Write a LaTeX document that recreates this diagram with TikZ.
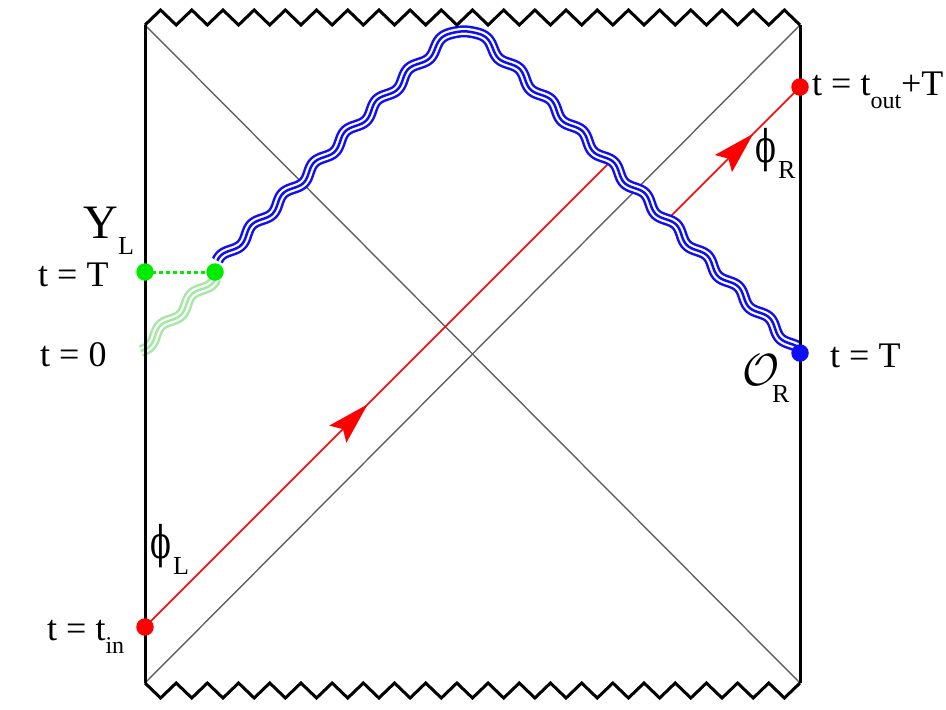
\RequirePackage{fix-cm}
\documentclass[tikz,border=0pt]{standalone}
\usepackage{fontspec}
\setmainfont{Liberation Serif}
\newfontfamily\phifont{DejaVu Serif}
\usetikzlibrary{arrows.meta,decorations.markings}
\definecolor{wblue}{RGB}{15,15,245}
\definecolor{gr}{RGB}{0,235,0}
\definecolor{lgr}{RGB}{165,232,165}
\newcommand{\uphi}{\scalebox{0.68}[1]{\phifont ϕ}}
\begin{document}
\begin{tikzpicture}[x=1pt,y=-1pt,
  declare function={
    wbU(\t)=(\t-464)/100;
    wbS(\t)=sqrt(wbU(\t)*wbU(\t)+0.0144);
    wbD(\t)=wbU(\t)/wbS(\t);
    wbN(\t)=sqrt(1+wbD(\t)*wbD(\t));
    wbW(\t)=3.5*sin(wbS(\t)*3.214*360);
    wbX(\t)=\t-wbW(\t)*wbD(\t)/wbN(\t);
    wbY(\t)=17+100*wbS(\t)+wbW(\t)/wbN(\t);
  },
  frame/.style={line width=3pt, black, line join=miter},
  diag/.style={line width=1.4pt, black!62},
  ray/.style={line width=1.5pt, red},
  dot/.style={circle, inner sep=0pt, minimum size=17.5pt},
  lab/.style={anchor=base west, inner sep=0pt, font=\fontsize{36}{40}\selectfont},
  sub/.style={anchor=base west, inner sep=0pt, font=\fontsize{26}{28}\selectfont},
  big/.style={anchor=base west, inner sep=0pt, font=\fontsize{45}{48}\selectfont},
  rayarrow/.style={postaction={decorate}, decoration={markings,
     mark=at position #1 with {\arrow{Stealth[length=42pt,width=24pt,inset=7pt]}}}}
]
\useasboundingbox (0,0) rectangle (946,710);

% key points
\coordinate (tl) at (145,25);
\coordinate (tr) at (800,25);
\coordinate (bl) at (145,683);
\coordinate (br) at (800,683);
\coordinate (pin) at (145,627);
\coordinate (pout) at (800,87);
\coordinate (pO) at (800,353);
\coordinate (pgL) at (145,272);
\coordinate (pgR) at (215,272);
\coordinate (r1end) at (609,163);
\coordinate (r2start) at (670,217);

% diagonals (horizons)
\draw[diag] (tl) -- (br);
\draw[diag] (tr) -- (bl);

% red rays
\draw[ray, rayarrow=0.48] (pin) -- (r1end);
\draw[ray, rayarrow=0.64] (r2start) -- (pout);

% faint green shock wave
\foreach \w/\c in {12pt/lgr, 7pt/white, 2.5pt/lgr} {
  \draw[line width=\w, color=\c, line join=round]
    plot[variable=\s, domain=0:104, samples=105]
    ({214-\s*0.7071+3.5*sin(\s*8.18+40)*0.7071},{277+\s*0.7071+3.5*sin(\s*8.18+40)*0.7071});
}

% blue shock wave
\foreach \w/\c in {12pt/wblue, 7pt/white, 2.5pt/wblue} {
  \draw[line width=\w, color=\c, line join=round]
    plot[variable=\t, domain=219:795, samples=577] ({wbX(\t)},{wbY(\t)});
}

% boundary with singularities
\draw[frame] (tl) foreach \i in {1,...,21} { -- ++(15.595,-15) -- ++(15.595,15) };
\draw[frame] (bl) foreach \i in {1,...,21} { -- ++(15.595,15) -- ++(15.595,-15) };
\draw[frame] (tl) -- (bl);
\draw[frame] (tr) -- (br);

% dotted green link
\draw[line width=3pt, gr, dash pattern=on 4pt off 3pt] (pgL) -- (pgR);

% dots
\node[dot, fill=gr] (gL) at (pgL) {};
\node[dot, fill=gr] (gR) at (pgR) {};
\node[dot, fill=red] (tin) at (pin) {};
\node[dot, fill=red] (tout) at (pout) {};
\node[dot, fill=wblue] (OR) at (pO) {};

% labels
\node[anchor=base west, inner sep=0pt, font=\fontsize{48}{50}\selectfont] (Y) at (83,238) {Y};
\node[sub] (YL) at (118,254) {L};
\node[lab] (tTl) at (38,286) {t = T};
\node[lab] (t0) at (40,366) {t = 0};
\node[lab] (tinl) at (47,640) {t = t\raisebox{-13pt}{\fontsize{24}{26}\selectfont in}};
\node[big] (phiL) at (150,558) {\uphi};
\node[sub] (phiLs) at (173,574) {L};
\node[lab] (toutl) at (812,95) {t = t\raisebox{-13pt}{\fontsize{24}{26}\selectfont out}+T};
\node[big] (phiR) at (755,162) {\uphi};
\node[sub] (phiRs) at (778,178) {R};
\node[big] (Ocal) at (742,385) {$\mathcal{O}$};
\node[sub] (Os) at (772,402) {R};
\node[lab] (tTr) at (830,367) {t = T};
\end{tikzpicture}
\end{document}
